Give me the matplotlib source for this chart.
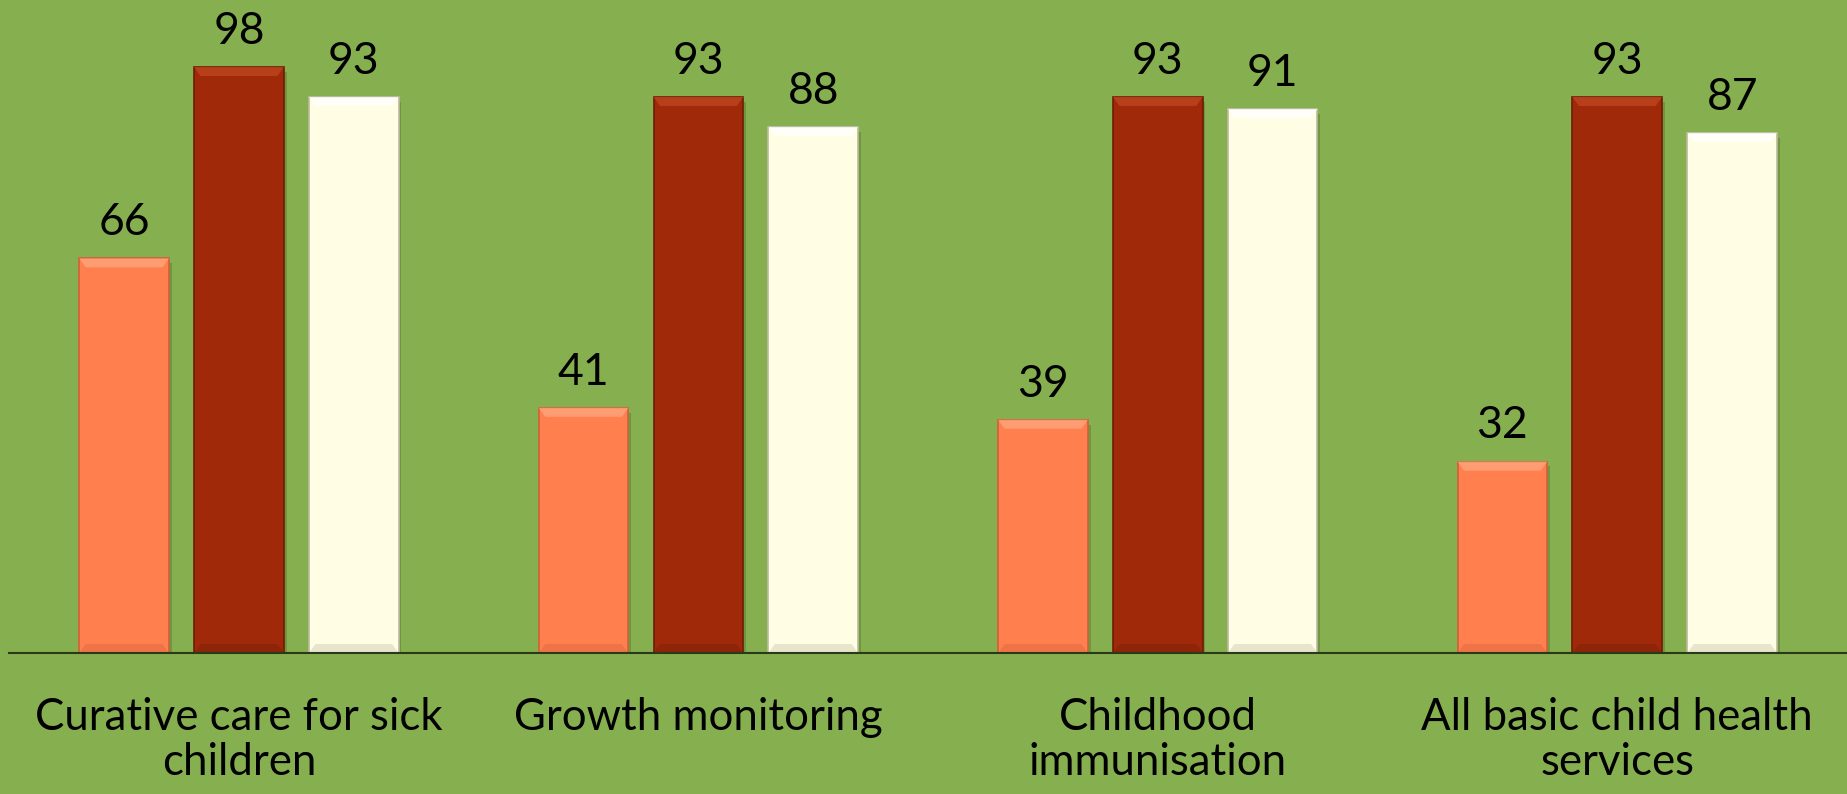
import matplotlib.pyplot as plt
import matplotlib.patches as mpatches
import numpy as np

categories = ["Curative care for sick\nchildren", "Growth monitoring",
              "Childhood\nimmunisation", "All basic child health\nservices"]
series_a = [66, 41, 39, 32]
series_b = [98, 93, 93, 93]
series_c = [93, 88, 91, 87]

bg = "#86B04F"
colors = ["#FF7F4F", "#A0290A", "#FFFDE3"]
tops = ["#FFA57C", "#BE4620", "#FFFFFF"]
edges = ["#D0603A", "#6E1C05", "#BDB9A0"]

plt.rcParams["font.family"] = ["Lato", "DejaVu Sans"]

fig = plt.figure(figsize=(18.47, 7.94), dpi=100, facecolor=bg)
ax = fig.add_axes([0.005, 0.1776, 0.995, 0.753], facecolor=bg)

x = np.arange(len(categories))
w = 0.195
step = 0.25
for i, vals in enumerate([series_a, series_b, series_c]):
    bars = ax.bar(x + (i - 1) * step, vals, w, color=colors[i],
                  edgecolor=edges[i], linewidth=1.2, zorder=3)
    for b in bars:
        bx, by, bw, bh = b.get_x(), b.get_y(), b.get_width(), b.get_height()
        # drop shadow
        ax.add_patch(mpatches.Rectangle((bx + 0.006, by), bw, bh - 0.8,
                                        color="#3E5A20", alpha=0.3, lw=0, zorder=2))
        # bevel highlight along the top
        dx, dy = 0.014, 1.5
        ax.add_patch(mpatches.Polygon([(bx, by + bh), (bx + bw, by + bh),
                                       (bx + bw - dx, by + bh - dy), (bx + dx, by + bh - dy)],
                                      color=tops[i], alpha=0.8, lw=0, zorder=4))
        # darker bevel at the bottom
        ax.add_patch(mpatches.Polygon([(bx, by), (bx + bw, by),
                                       (bx + bw - dx, by + dy), (bx + dx, by + dy)],
                                      color=edges[i], alpha=0.35, lw=0, zorder=4))
    ax.bar_label(bars, labels=[str(v) for v in vals], padding=11, fontsize=32,
                 color="black")

ax.set_xlim(-0.5, 3.5)
ax.set_ylim(0, 100)
ax.set_yticks([])
ax.set_xticks(x)
ax.set_xticklabels(categories, fontsize=31.5, linespacing=1.1)
ax.tick_params(axis="x", length=0, pad=32)
for s in ["top", "left", "right"]:
    ax.spines[s].set_visible(False)
ax.spines["bottom"].set_color("#2A3A18")
ax.spines["bottom"].set_linewidth(1.5)
ax.spines["bottom"].set_zorder(5)

fig.savefig("out.png", dpi=100, facecolor=bg)
